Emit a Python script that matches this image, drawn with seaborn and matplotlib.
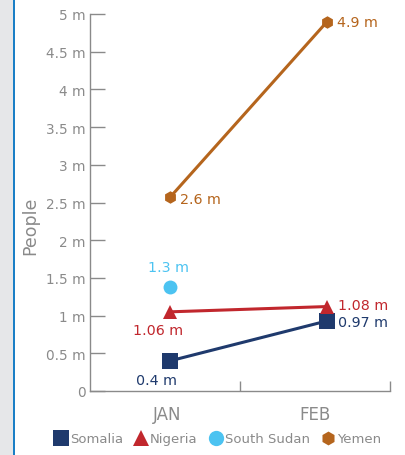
import numpy as np
import pandas as pd
import matplotlib
matplotlib.use("Agg")
import matplotlib.pyplot as plt
import matplotlib.patches as mpatches
from matplotlib.lines import Line2D
import seaborn as sns

months = ["JAN", "FEB"]
series_names = ["Somalia", "Nigeria", "South Sudan", "Yemen"]
somalia = [0.40, 0.93]
nigeria = [1.05, 1.12]
south_sudan = [1.38, np.nan]
yemen = [2.57, 4.9]
labels_somalia = ["0.4 m", "0.97 m"]
labels_nigeria = ["1.06 m", "1.08 m"]
labels_south_sudan = ["1.3 m", None]
labels_yemen = ["2.6 m", "4.9 m"]
y_ticks = [0, 0.5, 1, 1.5, 2, 2.5, 3, 3.5, 4, 4.5, 5]
y_tick_labels = ["0", "0.5 m", "1 m", "1.5 m", "2 m", "2.5 m", "3 m", "3.5 m", "4 m", "4.5 m", "5 m"]

colors = {"Somalia": "#1f3a6d", "Nigeria": "#c1272d", "South Sudan": "#4cc3f1", "Yemen": "#b5651d"}
markers = {"Somalia": "s", "Nigeria": "^", "South Sudan": "o", "Yemen": "h"}
msizes = {"Somalia": 11, "Nigeria": 10, "South Sudan": 10, "Yemen": 9}

sns.set_theme(style="white")
plt.rcParams["font.family"] = ["DejaVu Sans"]

x_pos = [0.0, 1.0]
rows = []
for name, vals in zip(series_names, [somalia, nigeria, south_sudan, yemen]):
    for xp, m, v in zip(x_pos, months, vals):
        rows.append({"series": name, "x": xp, "month": m, "value": v})
df = pd.DataFrame(rows)

fig = plt.figure(figsize=(4.05, 4.56), dpi=100)
fig.patch.set_facecolor("white")
# left decorative strip
fig.add_artist(mpatches.Rectangle((0, 0), 13 / 405, 1, transform=fig.transFigure,
                                  facecolor="#e6e7e9", edgecolor="none"))
fig.add_artist(mpatches.Rectangle((13 / 405, 0), 2.2 / 405, 1, transform=fig.transFigure,
                                  facecolor="#1a7fc6", edgecolor="none"))

ax = fig.add_axes([90 / 405, 1 - 392 / 456, 300 / 405, 377 / 456])
ax.set_facecolor("none")

for name in series_names:
    sub = df[df["series"] == name].dropna()
    sns.lineplot(data=sub, x="x", y="value", ax=ax, color=colors[name], linewidth=2.2,
                 marker=markers[name], markersize=msizes[name], markeredgewidth=0,
                 legend=False)

gray = "#8a8a8a"
fs = 10.3
# data labels
ax.annotate(labels_yemen[0], (x_pos[0], yemen[0]), xytext=(7, -1), textcoords="offset points",
            ha="left", va="center", color=colors["Yemen"], fontsize=fs)
ax.annotate(labels_yemen[1], (x_pos[1], yemen[1]), xytext=(7, 0), textcoords="offset points",
            ha="left", va="center", color=colors["Yemen"], fontsize=fs)
ax.annotate(labels_south_sudan[0], (x_pos[0], south_sudan[0]), xytext=(-1, 9), textcoords="offset points",
            ha="center", va="bottom", color=colors["South Sudan"], fontsize=fs)
ax.annotate(labels_nigeria[0], (x_pos[0], nigeria[0]), xytext=(-9, -8), textcoords="offset points",
            ha="center", va="top", color=colors["Nigeria"], fontsize=fs)
ax.annotate(labels_nigeria[1], (x_pos[1], nigeria[1]), xytext=(8, 1), textcoords="offset points",
            ha="left", va="center", color=colors["Nigeria"], fontsize=fs)
ax.annotate(labels_somalia[0], (x_pos[0], somalia[0]), xytext=(-10, -9), textcoords="offset points",
            ha="center", va="top", color=colors["Somalia"], fontsize=fs)
ax.annotate(labels_somalia[1], (x_pos[1], somalia[1]), xytext=(8, -1), textcoords="offset points",
            ha="left", va="center", color=colors["Somalia"], fontsize=fs)

ax.set_ylim(0, 5)
ax.set_xlim(-0.51, 1.40)
ax.set_yticks(y_ticks)
ax.set_yticklabels(y_tick_labels)
ax.set_xticks([-0.02, 0.92])
ax.set_xticklabels(months)
ax.set_xticks([0.446, 1.40], minor=True)
ax.tick_params(axis="y", direction="in", length=11, width=1, color=gray, labelcolor=gray,
               labelsize=9.8, pad=3, left=True)
ax.tick_params(axis="x", which="major", length=0, labelcolor=gray, labelsize=12, pad=10)
ax.tick_params(axis="x", which="minor", direction="in", length=7, width=1, color=gray, bottom=True)
for s in ["top", "right"]:
    ax.spines[s].set_visible(False)
for s in ["left", "bottom"]:
    ax.spines[s].set_color(gray)
    ax.spines[s].set_linewidth(1)
ax.set_xlabel("")
ax.set_ylabel("People", color=gray, fontsize=12.5, labelpad=4)
ax.yaxis.set_label_coords(-0.17, 0.44)

handles = [Line2D([0], [0], linestyle="none", marker=markers[n], color=colors[n],
                  markersize=msizes[n] + 1, markeredgewidth=0) for n in series_names]
leg = fig.legend(handles, series_names, loc="center", bbox_to_anchor=(0.538, 1 - 440 / 456),
                 ncol=4, frameon=False, fontsize=9.5, handlelength=0.9, handletextpad=0.25,
                 columnspacing=0.9, labelcolor=gray)

fig.savefig("out.png", dpi=100)
